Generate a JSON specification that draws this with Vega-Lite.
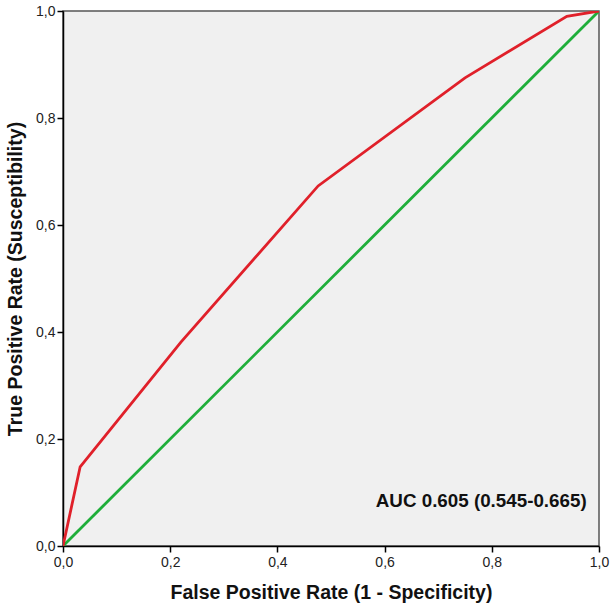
{
  "$schema": "https://vega.github.io/schema/vega-lite/v6.json",
  "width": 536,
  "height": 535,
  "autosize": {"type": "none"},
  "padding": {"left": 63, "top": 11, "right": 15, "bottom": 65},
  "background": "white",
  "config": {
    "font": "Liberation Sans",
    "view": {"fill": "#f0f0f0", "stroke": "#555555", "strokeWidth": 1.5},
    "axis": {
      "grid": false,
      "domainColor": "#000000",
      "domainWidth": 1.5,
      "tickColor": "#000000",
      "tickSize": 6,
      "tickWidth": 1.5,
      "labelFont": "Liberation Sans",
      "labelFontSize": 14,
      "labelColor": "#222222",
      "labelFlush": false,
      "titleFont": "Liberation Sans",
      "titleFontSize": 19.5,
      "titleFontWeight": "bold",
      "titleColor": "#111111"
    }
  },
  "datasets": {
    "roc": [
      {"fpr": 0.0, "tpr": 0.0},
      {"fpr": 0.032, "tpr": 0.148},
      {"fpr": 0.22, "tpr": 0.381},
      {"fpr": 0.476, "tpr": 0.673},
      {"fpr": 0.75, "tpr": 0.875},
      {"fpr": 0.94, "tpr": 0.99},
      {"fpr": 1.0, "tpr": 1.0}
    ],
    "ref": [
      {"fpr": 0.0, "tpr": 0.0},
      {"fpr": 1.0, "tpr": 1.0}
    ],
    "label": [
      {"fpr": 0.977, "tpr": 0.085, "text": "AUC 0.605 (0.545-0.665)"}
    ]
  },
  "layer": [
    {
      "data": {"name": "ref"},
      "mark": {"type": "line", "color": "#1fae3a", "strokeWidth": 2.8, "clip": true},
      "encoding": {
        "x": {
          "field": "fpr", "type": "quantitative",
          "scale": {"domain": [0, 1], "nice": false, "zero": false},
          "axis": {
            "title": "False Positive Rate (1 - Specificity)",
            "values": [0, 0.2, 0.4, 0.6, 0.8, 1.0],
            "labelExpr": "replace(format(datum.value, '.1f'), '.', ',')",
            "labelPadding": 3,
            "titlePadding": 14
          }
        },
        "y": {
          "field": "tpr", "type": "quantitative",
          "scale": {"domain": [0, 1], "nice": false, "zero": false},
          "axis": {
            "title": "True Positive Rate (Susceptibility)",
            "values": [0, 0.2, 0.4, 0.6, 0.8, 1.0],
            "labelExpr": "replace(format(datum.value, '.1f'), '.', ',')",
            "labelPadding": 2,
            "titlePadding": 10
          }
        }
      }
    },
    {
      "data": {"name": "roc"},
      "mark": {"type": "line", "color": "#e0202a", "strokeWidth": 2.8, "clip": true},
      "encoding": {
        "x": {"field": "fpr", "type": "quantitative"},
        "y": {"field": "tpr", "type": "quantitative"}
      }
    },
    {
      "data": {"name": "label"},
      "mark": {"type": "text", "align": "right", "baseline": "middle", "fontSize": 18.8, "fontWeight": "bold", "color": "#111111", "font": "Liberation Sans"},
      "encoding": {
        "x": {"field": "fpr", "type": "quantitative"},
        "y": {"field": "tpr", "type": "quantitative"},
        "text": {"field": "text"}
      }
    }
  ]
}
